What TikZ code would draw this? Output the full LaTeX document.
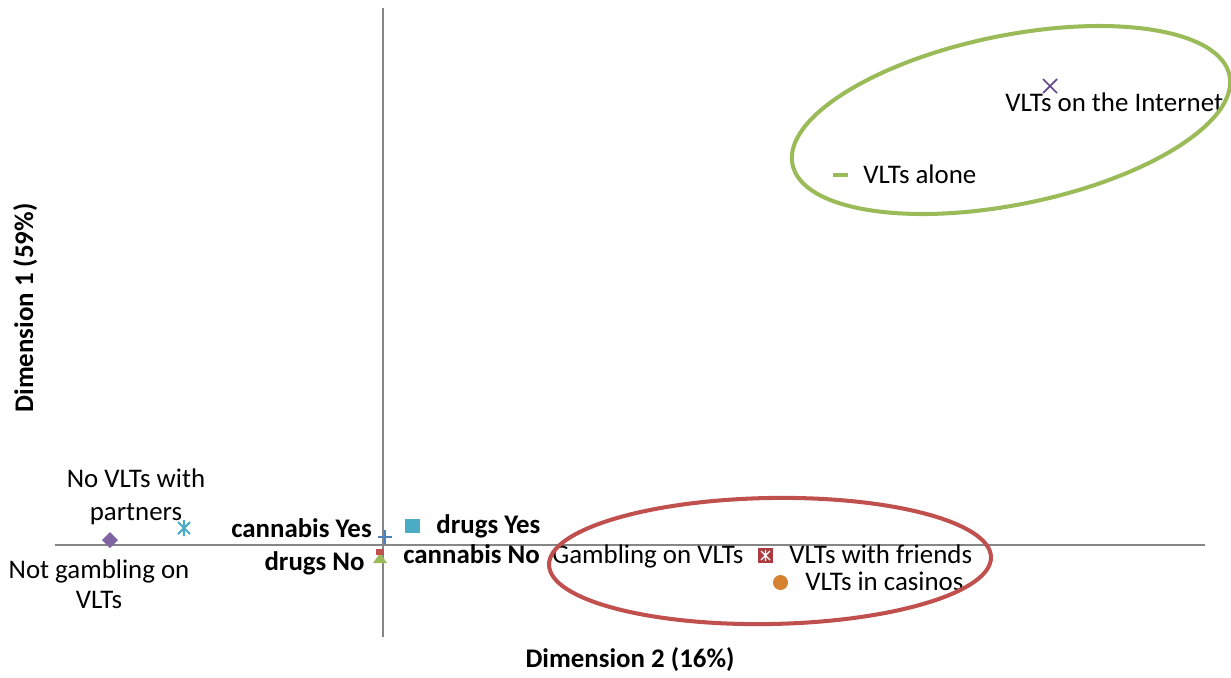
\documentclass[tikz,border=0pt]{standalone}
\usepackage{fontspec}
\setmainfont{Carlito}
\usetikzlibrary{positioning}
\definecolor{axisgray}{RGB}{134,134,134}
\definecolor{vpurple}{RGB}{128,100,162}
\definecolor{vxpurple}{RGB}{96,74,140}
\definecolor{vteal}{RGB}{75,172,198}
\definecolor{vblue}{RGB}{79,129,189}
\definecolor{vred}{RGB}{192,80,77}
\definecolor{vdarkred}{RGB}{170,60,65}
\definecolor{vgreen}{RGB}{155,187,89}
\definecolor{vorange}{RGB}{214,128,50}

\begin{document}
\begin{tikzpicture}[x=0.02cm,y=-0.02cm,
    lbl/.style={font=\fontsize{15.3}{18}\selectfont, inner sep=0pt},
    blbl/.style={lbl, font=\fontsize{15.3}{18}\selectfont\bfseries},
    axisline/.style={axisgray, line width=0.8pt},
    group/.style={line width=2.3pt}]

    \useasboundingbox (0,0) rectangle (1231,677);

    % axes
    \draw[axisline] (55,545) -- (1205,545);
    \draw[axisline] (383,8) -- (383,637);
    \node[blbl, anchor=base] (dimtwo) at (630,667) {Dimension 2 (16\%)};
    \node[blbl, anchor=base, rotate=90] (dimone) at (33,308) {Dimension 1 (59\%)};

    % markers
    \fill[vpurple] (110,532) -- (118,540) -- (110,548) -- (102,540) -- cycle;
    \draw[vteal, line width=1.2pt] (178,522) -- (190,534) (178,534) -- (190,522) (184,520) -- (184,536);
    \fill[vgreen] (373,563) -- (387,563) -- (380,553) -- cycle;
    \fill[vred] (376,549) rectangle (384,555);
    \draw[vblue, line width=1pt] (378,537) -- (392,537) (385,530) -- (385,544);
    \fill[vteal] (405,519) rectangle (420,533);
    \fill[vdarkred] (758,548) rectangle (773,563);
    \draw[white, line width=0.7pt] (761,551) -- (770,560) (761,560) -- (770,551) (765.5,550) -- (765.5,561);
    \fill[vorange] (780.5,582.5) circle [radius=7.5];
    \draw[vxpurple, line width=1pt] (1043,79) -- (1057,93) (1043,93) -- (1057,79);
    \draw[vgreen, line width=2.3pt] (833,175) -- (848,175);

    % labels
    \node[lbl, anchor=base] (novlt) at (136,487) {No VLTs with};
    \node[lbl, anchor=base] (novltb) at (136,520) {partners};
    \node[lbl, anchor=base] (notgamb) at (99,578) {Not gambling on};
    \node[lbl, anchor=base] (notgambb) at (99,608) {VLTs};
    \node[blbl, anchor=base east] (canyes) at (372,537) {cannabis Yes};
    \node[blbl, anchor=base east] (drugno) at (365,570) {drugs No};
    \node[blbl, anchor=base west] (drugyes) at (436,533) {drugs Yes};
    \node[blbl, anchor=base west] (canno) at (403,563) {cannabis No};
    \node[lbl, anchor=base west] (gamb) at (552,563) {Gambling on VLTs};
    \node[lbl, anchor=base west] (friends) at (789,563) {VLTs with friends};
    \node[lbl, anchor=base west] (casinos) at (805,590) {VLTs in casinos};
    \node[lbl, anchor=base west] (internet) at (1005,111) {VLTs on the Internet};
    \node[lbl, anchor=base west] (alone) at (863,183) {VLTs alone};

    % groups
    \draw[group, vgreen, rotate around={11.5:(1011,120)}] (1011,120) ellipse [x radius=223, y radius=84.5];
    \draw[group, vred, rotate around={1:(770,561)}] (770,561) ellipse [x radius=221, y radius=63];
\end{tikzpicture}
\end{document}
